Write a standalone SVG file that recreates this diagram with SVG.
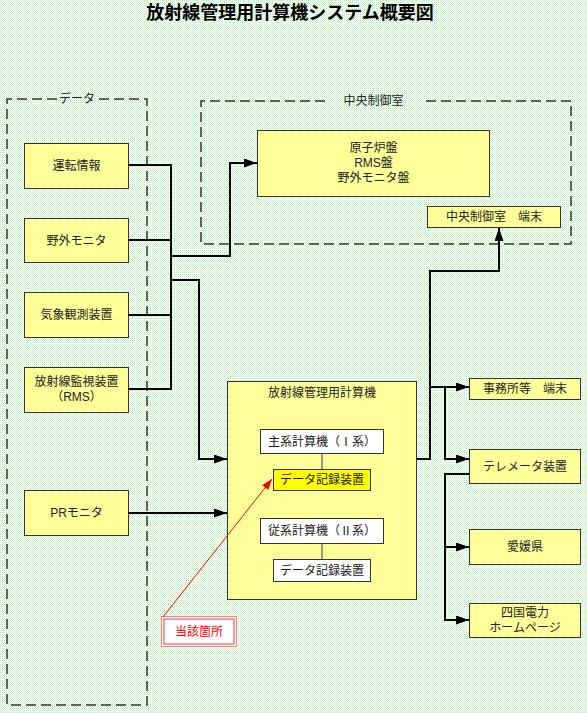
<svg xmlns="http://www.w3.org/2000/svg" width="587" height="713" viewBox="0 0 587 713">
<defs>
<pattern id="bg" width="2" height="2" patternUnits="userSpaceOnUse">
<rect width="2" height="2" fill="#ffffff"/>
<rect width="1" height="1" fill="#b4efb4"/>
<rect x="1" y="1" width="1" height="1" fill="#dcf8dc"/>
</pattern>
<marker id="ah" markerUnits="userSpaceOnUse" markerWidth="14" markerHeight="10" refX="13" refY="4.5" orient="auto">
<path d="M0,0 L13,4.5 L0,9 z" fill="#000"/>
</marker>
<marker id="ahr" markerUnits="userSpaceOnUse" markerWidth="12" markerHeight="10" refX="11" refY="4" orient="auto">
<path d="M0,0 L11,4 L0,8 z" fill="#ff0000"/>
</marker>
</defs>
<style>
text{font-family:"Liberation Sans","Noto Sans CJK JP",sans-serif;font-size:12px;fill:#222;text-anchor:middle;dominant-baseline:central}
.box{fill:#ffff99;stroke:#333;stroke-width:1}
.wbox{fill:#ffffff;stroke:#333;stroke-width:1}
.hl{fill:#ffff00;stroke:#333;stroke-width:1}
.dash{fill:none;stroke:#333;stroke-width:1.5;stroke-dasharray:10 5}
.conn{fill:none;stroke:#000;stroke-width:2}
.arr{marker-end:url(#ah)}
.thin{fill:none;stroke:#555;stroke-width:1.2}
.title{font-size:18px;font-weight:bold;fill:#000}
</style>
<rect width="587" height="713" fill="url(#bg)"/>
<text class="title" x="290" y="13">放射線管理用計算機システム概要図</text>

<g id="group-data">
<path class="dash" d="M57,99 H7 V705 H147 V99 H97"/>
<text x="77" y="99">データ</text>
</g>
<g id="group-control-room">
<path class="dash" d="M325,101 H201 V244 H571 V101 H422"/>
<text x="373.5" y="101">中央制御室</text>
</g>

<g id="node-unten">
<rect class="box" x="24.5" y="143.5" width="104" height="45"/>
<text x="76.5" y="166">運転情報</text>
</g>
<g id="node-yagai">
<rect class="box" x="24.5" y="218.5" width="104" height="44"/>
<text x="76.5" y="240.5">野外モニタ</text>
</g>
<g id="node-kisho">
<rect class="box" x="24.5" y="292.5" width="104" height="45"/>
<text x="76.5" y="315">気象観測装置</text>
</g>
<g id="node-rms">
<rect class="box" x="24.5" y="367.5" width="104" height="45"/>
<text x="76.5" y="382">放射線監視装置</text>
<text x="76.5" y="397">（RMS）</text>
</g>
<g id="node-pr">
<rect class="box" x="24.5" y="490.5" width="104" height="45"/>
<text x="76.5" y="513">PRモニタ</text>
</g>

<g id="node-panel">
<rect class="box" x="257.5" y="130.5" width="232" height="66"/>
<text x="373.5" y="148">原子炉盤</text>
<text x="373.5" y="163">RMS盤</text>
<text x="373.5" y="178">野外モニタ盤</text>
</g>
<g id="node-cr-terminal">
<rect class="box" x="427.5" y="206.5" width="133" height="21"/>
<text x="494" y="217">中央制御室　端末</text>
</g>

<g id="node-computer">
<rect class="box" x="227.5" y="381.5" width="189" height="218"/>
<text x="322" y="393">放射線管理用計算機</text>
</g>
<g id="node-main">
<rect class="wbox" x="260.5" y="429.5" width="123" height="24"/>
<text x="322" y="441.5">主系計算機（Ⅰ系）</text>
</g>
<g id="node-rec1">
<rect class="hl" x="273.5" y="469.5" width="97" height="21"/>
<text x="322" y="480">データ記録装置</text>
</g>
<g id="node-sub">
<rect class="wbox" x="260.5" y="518.5" width="123" height="25"/>
<text x="322" y="531">従系計算機（Ⅱ系）</text>
</g>
<g id="node-rec2">
<rect class="wbox" x="273.5" y="559.5" width="97" height="22"/>
<text x="322" y="570.5">データ記録装置</text>
</g>

<g id="node-office">
<rect class="box" x="469.5" y="378.5" width="111" height="21"/>
<text x="525" y="389">事務所等　端末</text>
</g>
<g id="node-tele">
<rect class="box" x="469.5" y="449.5" width="111" height="34"/>
<text x="525" y="466.5">テレメータ装置</text>
</g>
<g id="node-ehime">
<rect class="box" x="469.5" y="529.5" width="111" height="35"/>
<text x="525" y="547">愛媛県</text>
</g>
<g id="node-yonden">
<rect class="box" x="469.5" y="603.5" width="111" height="34"/>
<text x="525" y="613">四国電力</text>
<text x="525" y="628">ホームページ</text>
</g>

<g id="node-target">
<rect x="161.5" y="616.5" width="75" height="30" fill="#ffffff" stroke="#ff8080" stroke-width="1"/>
<rect x="164" y="619" width="70" height="25" fill="#ffffff" stroke="#ff3333" stroke-width="1"/>
<text x="199" y="631.5" style="fill:#ff0000">当該箇所</text>
</g>

<g id="connectors">
<path class="conn" d="M128,165 H171 V389 H128"/>
<path class="conn" d="M128,240 H171"/>
<path class="conn" d="M128,315 H171"/>
<path class="conn arr" d="M171,256 H230 V163 H257"/>
<path class="conn arr" d="M171,280 H199 V459 H227"/>
<path class="conn arr" d="M128,513 H227"/>
<path class="conn arr" d="M417,459 H430 V271 H499 V228"/>
<path class="conn arr" d="M430,387 H469"/>
<path class="conn arr" d="M445,387 V459 H469"/>
<path class="conn arr" d="M469,474 H445 V620 H469"/>
<path class="conn arr" d="M445,547 H469"/>
<path class="thin" d="M322,454 V469"/>
<path class="thin" d="M322,544 V559"/>
<path d="M163,617 L272,479" fill="none" stroke="#ff0000" stroke-width="1" marker-end="url(#ahr)"/>
</g>
</svg>
